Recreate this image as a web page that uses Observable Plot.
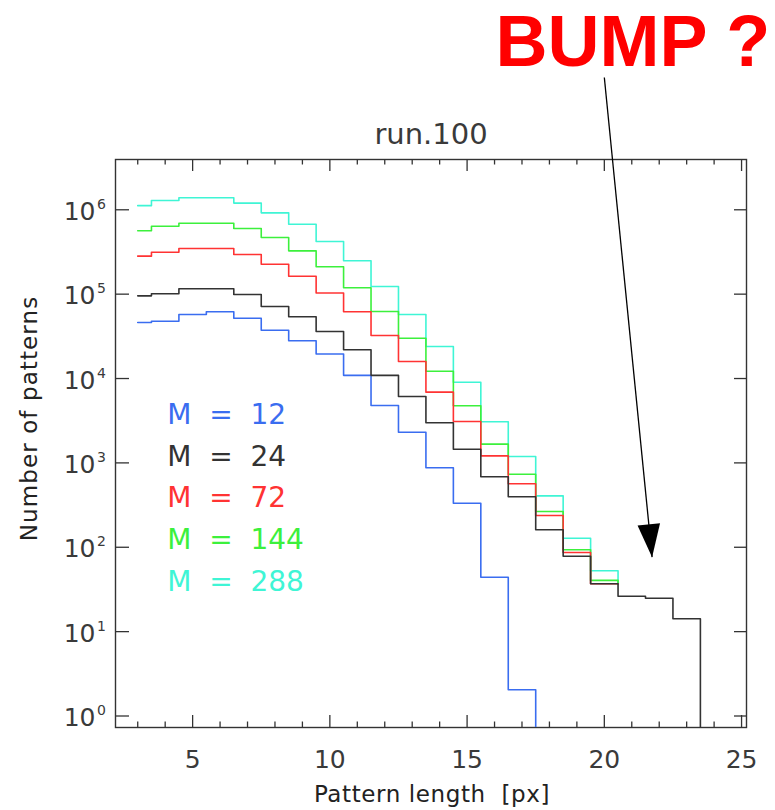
<!DOCTYPE html>
<html><head><meta charset="utf-8">
<script src="https://cdn.jsdelivr.net/npm/d3@7"></script>
<script src="https://cdn.jsdelivr.net/npm/@observablehq/plot@0.6"></script>
<style>
html,body{margin:0;padding:0;background:#fff;}
svg text{white-space:pre;}
</style></head><body><div id="chart"></div>
<script>
// ---------- data ----------
const title = "run.100";
const annotation = "BUMP ?";
const xLabel = "Pattern length  [px]";
const yLabel = "Number of patterns";
const lengths = [3,4,5,6,7,8,9,10,11,12,13,14,15,16,17,18,19,20,21,22,23,24];
const mValues = [12, 24, 72, 144, 288];
const colors = ["#3a6df0", "#333333", "#ff3333", "#3cf03c", "#3ff5d5"];
// counts per pattern length (last entry: level after the final step; 0 = drop to nothing)
const countsM12  = [4.61e4, 4.78e4, 5.74e4, 6.18e4, 5.19e4, 3.74e4, 2.80e4, 1.95e4, 1.09e4, 4.79e3, 2.31e3, 875, 332, 44.2, 2.05, 0];
const countsM24  = [9.55e4, 1.01e5, 1.16e5, 1.16e5, 9.9e4, 7.14e4, 5.39e4, 3.61e4, 2.19e4, 1.09e4, 6.12e3, 2.99e3, 1.45e3, 684, 397, 161, 78.4, 36.9, 26.3, 24.9, 14.2, 0];
const countsM72  = [2.82e5, 3.14e5, 3.48e5, 3.48e5, 2.95e5, 2.26e5, 1.63e5, 1.03e5, 6.18e4, 3.24e4, 1.59e4, 6.89e3, 3.10e3, 1.21e3, 567, 238, 86.7, 37, 37];
const countsM144 = [5.64e5, 6.39e5, 6.93e5, 6.93e5, 6.0e5, 4.69e5, 3.26e5, 2.11e5, 1.19e5, 6.23e4, 3.0e4, 1.22e4, 4.75e3, 1.67e3, 733, 265, 93.3, 40.5, 37];
const countsM288 = [1.12e6, 1.29e6, 1.39e6, 1.39e6, 1.20e6, 9.2e5, 6.75e5, 4.21e5, 2.49e5, 1.23e5, 5.74e4, 2.40e4, 9.04e3, 3.07e3, 1.19e3, 407, 128, 52.6, 37];
const xMajorTicks = [5, 10, 15, 20, 25];
const xMinorTicks = [3,4,6,7,8,9,11,12,13,14,16,17,18,19,21,22,23,24];
const yTickExponents = [0, 1, 2, 3, 4, 5, 6];
const arrowLine = [{x1: 20.0, y1: 3.7e7, x2: 21.74, y2: 76.3}];
const arrowTip = [{x: 21.74, y: 76.3}];

// ---------- layout ----------
const W = 775, H = 810;
const mL = 115, mR = 29, mT = 159, mB = 83;
const frameW = W - mL - mR, frameH = H - mT - mB;
const xDomain = [2.19, 25.18];
const yDomain = [Math.pow(10, -0.1363), Math.pow(10, 6.596)];
const ink = "#3a3a3a";
const font = "DejaVu Sans, Liberation Sans, sans-serif";

const countsBySeries = [countsM12, countsM24, countsM72, countsM144, countsM288];
const series = mValues.map((m, i) => ({m, color: colors[i], values: countsBySeries[i]}));
const drawOrder = [4, 3, 2, 0, 1];

function stepPoints(values) {
  const floor = yDomain[0] / 10;
  const v = d => (d > 0 ? d : floor);
  const pts = [{x: lengths[0], y: v(values[0])}];
  for (let i = 1; i < values.length; i++) {
    const edge = lengths[i] - 0.5;
    pts.push({x: edge, y: v(values[i - 1])});
    pts.push({x: edge, y: v(values[i])});
  }
  return pts;
}

const headSymbol = {
  draw(context) {
    context.moveTo(0, 0);
    context.lineTo(-11.3, 33);
    context.lineTo(11.3, 33);
    context.closePath();
  }
};

const yTicks = yTickExponents.map(e => Math.pow(10, e));

const marks = [
  Plot.frame({stroke: "#333", strokeWidth: 1.4}),
  // ticks (inward, IDL style)
  Plot.tickX(xMajorTicks, {x: d => d, insetTop: frameH - 12, stroke: "#333", strokeWidth: 1.3}),
  Plot.tickX(xMinorTicks, {x: d => d, insetTop: frameH - 5.5, stroke: "#333", strokeWidth: 1.3}),
  Plot.tickX(xMajorTicks, {x: d => d, insetBottom: frameH - 12, stroke: "#333", strokeWidth: 1.3}),
  Plot.tickX(xMinorTicks, {x: d => d, insetBottom: frameH - 5.5, stroke: "#333", strokeWidth: 1.3}),
  Plot.tickY(yTicks, {y: d => d, insetRight: frameW - 14, stroke: "#333", strokeWidth: 1.3}),
  Plot.tickY(yTicks, {y: d => d, insetLeft: frameW - 12, stroke: "#333", strokeWidth: 1.3}),
  // histograms
  ...drawOrder.map(i => Plot.line(stepPoints(series[i].values), {
    x: "x", y: "y", stroke: series[i].color, strokeWidth: 1.6, clip: true
  })),
  // tick labels
  Plot.text(xMajorTicks, {x: d => d, text: d => String(d), frameAnchor: "bottom", lineAnchor: "top",
    dy: 23, fontSize: 25, fill: ink, fontFamily: font}),
  Plot.text(yTicks, {y: d => d, text: () => "10", frameAnchor: "left", textAnchor: "end",
    lineAnchor: "middle", dx: -20, dy: 2, fontSize: 25, fill: ink, fontFamily: font}),
  Plot.text(yTickExponents, {y: e => Math.pow(10, e), text: e => String(e), frameAnchor: "left", textAnchor: "start",
    lineAnchor: "bottom", dx: -18.5, dy: -1, fontSize: 14, fill: ink, fontFamily: font}),
  // legend
  ...series.map((s, i) => Plot.text([s], {text: d => `M  =  ${d.m}`, frameAnchor: "top-left", textAnchor: "start",
    lineAnchor: "bottom", dx: 166.7 - mL, dy: 264.3 + i * 41.7, fontSize: 28, fill: s.color, fontFamily: font})),
  // titles
  Plot.text([title], {text: d => d, frameAnchor: "top", lineAnchor: "bottom", dy: -15.7, fontSize: 29,
    fill: ink, fontFamily: font}),
  Plot.text([xLabel], {text: d => d, frameAnchor: "bottom", textAnchor: "middle", lineAnchor: "bottom", dx: 1, dy: 74.7, fontSize: 23,
    fill: "#222", fontFamily: font}),
  Plot.text([yLabel], {text: d => d, frameAnchor: "left", textAnchor: "middle", lineAnchor: "middle", rotate: -90, dx: 29 - mL, dy: -25,
    fontSize: 23, fill: "#222", fontFamily: font}),
  // annotation
  Plot.text([annotation], {text: d => d, frameAnchor: "top-left", textAnchor: "start", lineAnchor: "bottom",
    dx: 495 - mL, dy: 65 - mT, fontSize: 72, fontWeight: "bold", fill: "#ff0000",
    fontFamily: "Liberation Sans, Arial, sans-serif"}),
  Plot.link(arrowLine, {x1: "x1", y1: "y1", x2: "x2", y2: "y2", stroke: "#000", strokeWidth: 1.3}),
  Plot.dot(arrowTip, {x: "x", y: "y", symbol: headSymbol, r: 10, fill: "#000", stroke: "none", rotate: 174.3})
];

const chart = Plot.plot({
  width: W, height: H,
  marginLeft: mL, marginRight: mR, marginTop: mT, marginBottom: mB,
  x: {type: "linear", domain: xDomain, axis: null},
  y: {type: "log", domain: yDomain, axis: null},
  style: {fontFamily: font, background: "#fff", overflow: "visible"},
  marks
});
// letter spacing of the axis titles
d3.select(chart).selectAll("text").each(function () {
  const t = this.textContent;
  if (t === xLabel) this.style.letterSpacing = "0.6px";
  if (t === yLabel) this.style.letterSpacing = "1.1px";
});
document.getElementById("chart").appendChild(chart);
</script></body></html>
